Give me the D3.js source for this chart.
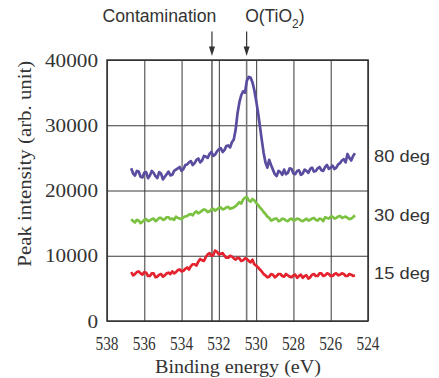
<!DOCTYPE html>
<html>
<head>
<meta charset="utf-8">
<script src="https://cdn.jsdelivr.net/npm/d3@7"></script>
<style>
  html, body { margin: 0; padding: 0; background: #fff; }
  svg { display: block; }
</style>
</head>
<body>
<svg id="chart" width="439" height="378"></svg>
<script>
// Binding energy (eV) of each sample point
const energies = [
  536.7, 536.6, 536.5, 536.4, 536.3, 536.2, 536.1, 536.0, 535.9, 535.8,
  535.7, 535.6, 535.5, 535.4, 535.3, 535.2, 535.1, 535.0, 534.9, 534.8,
  534.7, 534.6, 534.5, 534.4, 534.3, 534.2, 534.1, 534.0, 533.9, 533.8,
  533.7, 533.6, 533.5, 533.4, 533.3, 533.2, 533.1, 533.0, 532.9, 532.8,
  532.7, 532.6, 532.5, 532.4, 532.3, 532.2, 532.1, 532.0, 531.9, 531.8,
  531.7, 531.6, 531.5, 531.4, 531.3, 531.2, 531.1, 531.0, 530.9, 530.8,
  530.7, 530.6, 530.5, 530.4, 530.3, 530.2, 530.1, 530.0, 529.9, 529.8,
  529.7, 529.6, 529.5, 529.4, 529.3, 529.2, 529.1, 529.0, 528.9, 528.8,
  528.7, 528.6, 528.5, 528.4, 528.3, 528.2, 528.1, 528.0, 527.9, 527.8,
  527.7, 527.6, 527.5, 527.4, 527.3, 527.2, 527.1, 527.0, 526.9, 526.8,
  526.7, 526.6, 526.5, 526.4, 526.3, 526.2, 526.1, 526.0, 525.9, 525.8,
  525.7, 525.6, 525.5, 525.4, 525.3, 525.2, 525.1, 525.0, 524.9, 524.8,
  524.7
];

// Peak intensity
const deg80 = [
  23400, 22600, 22300, 23000, 22900, 22100, 22000, 22700, 22800, 21900,
  22300, 23000, 22700, 22200, 21900, 22800, 22600, 21700, 22100, 22500,
  22900, 22300, 22400, 23000, 23200, 23400, 23600, 23000, 23300, 23900,
  24000, 24300, 24500, 23900, 24200, 24700, 24900, 24300, 24600, 25300,
  25200, 25000, 25600, 25900, 25300, 25500, 26000, 26300, 26500, 25900,
  26200, 26800, 26900, 26600, 27400, 27800, 29300, 31800, 33500, 34600,
  35200, 35000, 36800, 37400, 37300, 36600, 35400, 33800, 32000, 29900,
  27800, 25800, 24300, 23500, 24700, 23900, 23200, 22500, 22200, 23000,
  22800, 22400, 23200, 22500, 22700, 23400, 23300, 22600, 22500, 23000,
  23100, 22400, 22600, 23200, 23000, 22700, 23300, 23500, 22900, 23000,
  23400, 23600, 23100, 23000, 23600, 23900, 23300, 23500, 23800, 23300,
  23500, 24000, 24200, 24600, 24800, 24300, 25600, 25000, 24600, 25300,
  25700
];
const deg30 = [
  15600, 15300, 15100, 15500, 15400, 15000, 15200, 15500, 15600, 15300,
  15400, 15600, 15700, 15300, 15500, 15800, 15800, 15500, 15600, 15900,
  15900, 15600, 15700, 15500, 16000, 15800, 15700, 15600, 15900, 16000,
  16100, 16300, 16400, 16200, 16600, 16800, 16500, 16700, 16900, 17100,
  17000, 16700, 16800, 17100, 17200, 16900, 17100, 17300, 17400, 17100,
  17200, 17400, 17500, 17200, 17300, 17400, 17600, 17900, 18200, 18000,
  18600, 18900, 19000, 18500, 18300, 18700, 18500, 18100, 17800, 17400,
  17100, 16700, 16400, 16000, 15800, 15400, 15500, 15700, 15700, 15300,
  15400, 15700, 15600, 15400, 15300, 15600, 15700, 15400, 15500, 15700,
  15600, 15400, 15300, 15500, 15700, 15400, 15500, 15700, 15800, 15500,
  15400, 15700, 15600, 15300, 15900, 15800, 15700, 16000, 16000, 15700,
  15800, 16000, 16100, 15800, 15900, 16000, 15800, 15600, 15700, 15900,
  16200
];
const deg15 = [
  7500, 7000, 7200, 7500, 7600, 7300, 7100, 7500, 7400, 6900,
  6900, 7300, 7300, 6700, 6800, 7100, 7200, 6800, 7000, 7300,
  7400, 7200, 7600, 7300, 7500, 7800, 7900, 7600, 7700, 8000,
  8200, 7900, 8400, 8700, 8700, 8500, 9100, 9500, 9300, 9200,
  9800, 10200, 10400, 10000, 10100, 10800, 10600, 10200, 10300, 10400,
  10000, 9700, 9700, 10000, 9900, 9600, 9400, 9700, 9600, 9200,
  9300, 9600, 9500, 9200, 9000, 9400, 8700, 8500, 8200, 7900,
  7600, 7200, 7000, 6700, 6800, 7200, 7100, 6700, 6900, 7200,
  7200, 6900, 6800, 7200, 7000, 6800, 6700, 7000, 7100, 6600,
  6900, 7100, 6600, 6900, 7000, 6500, 6700, 7100, 7200, 6900,
  6900, 7300, 7300, 6900, 7000, 7300, 7200, 6900, 6900, 7200,
  7300, 7000, 7100, 7300, 7200, 6900, 6900, 7200, 7100, 6900,
  7000
];

const seriesNames = ['80 deg', '30 deg', '15 deg'];
const seriesColors = ['#5a4c9f', '#7cc242', '#e4232f'];

const xTicks = [538, 536, 534, 532, 530, 528, 526, 524];
const yTicks = [0, 10000, 20000, 30000, 40000];

const markerLabels = ['Contamination', 'O(TiO2)'];
const markerEnergies = [532.37, 530.51];

// Layout
const PLOT = { left: 107, right: 368, top: 60, bottom: 321 };
const LABEL_Y = [162, 221, 279];

function draw() {
  const svg = d3.select('#chart');

  const x = d3.scaleLinear().domain([538, 524]).range([PLOT.left, PLOT.right]);
  const y = d3.scaleLinear().domain([0, 40000]).range([PLOT.bottom, PLOT.top]);

  const serif = '"Liberation Serif", "Times New Roman", serif';
  const sans = '"Liberation Sans", Arial, sans-serif';
  const ink = '#333';

  // vertical grid
  svg.append('g')
    .attr('transform', `translate(0,${PLOT.bottom})`)
    .call(d3.axisBottom(x).tickValues(xTicks).tickSize(-(PLOT.bottom - PLOT.top)).tickFormat(''))
    .call(g => g.select('.domain').remove())
    .selectAll('line').attr('stroke', '#4a4a4a').attr('stroke-width', 1.1);

  // horizontal grid
  svg.append('g')
    .attr('transform', `translate(${PLOT.left},0)`)
    .call(d3.axisLeft(y).tickValues(yTicks).tickSize(-(PLOT.right - PLOT.left)).tickFormat(''))
    .call(g => g.select('.domain').remove())
    .selectAll('line').attr('stroke', '#3a3a3a').attr('stroke-width', 1.1);

  // marker lines through the plot
  markerEnergies.forEach((e, i) => {
    svg.append('line')
      .attr('x1', x(e)).attr('x2', x(e))
      .attr('y1', PLOT.top).attr('y2', PLOT.bottom)
      .attr('stroke', i === 0 ? '#333' : '#777')
      .attr('stroke-width', i === 0 ? 1.2 : 1.6);
  });

  // frame
  svg.append('rect')
    .attr('x', PLOT.left).attr('y', PLOT.top)
    .attr('width', PLOT.right - PLOT.left).attr('height', PLOT.bottom - PLOT.top)
    .attr('fill', 'none').attr('stroke', ink).attr('stroke-width', 1.5);

  // tick labels
  svg.append('g').selectAll('text')
    .data(xTicks).join('text')
    .attr('x', d => x(d)).attr('y', 349.5)
    .attr('text-anchor', 'middle')
    .attr('font-family', serif).attr('font-size', 18.5).attr('fill', ink)
    .attr('textLength', 23).attr('lengthAdjust', 'spacingAndGlyphs')
    .text(d => d);

  svg.append('g').selectAll('text')
    .data(yTicks).join('text')
    .attr('x', 98).attr('y', d => y(d) + 6.5)
    .attr('text-anchor', 'end')
    .attr('font-family', serif).attr('font-size', 18).attr('fill', ink)
    .attr('textLength', d => String(d).length * 10.6).attr('lengthAdjust', 'spacingAndGlyphs')
    .text(d => d);

  // axis titles
  svg.append('text')
    .attr('x', (PLOT.left + PLOT.right) / 2 + 0.5).attr('y', 372.5)
    .attr('text-anchor', 'middle')
    .attr('font-family', serif).attr('font-size', 19).attr('fill', ink)
    .attr('textLength', 166).attr('lengthAdjust', 'spacingAndGlyphs')
    .text('Binding energy (eV)');

  svg.append('text')
    .attr('transform', 'translate(30.5,163.7) rotate(-90)')
    .attr('text-anchor', 'middle')
    .attr('font-family', serif).attr('font-size', 19).attr('fill', ink)
    .attr('textLength', 206).attr('lengthAdjust', 'spacingAndGlyphs')
    .text('Peak intensity (arb. unit)');

  // spectra
  const line = d3.line()
    .x((d, i) => x(energies[i]))
    .y(d => y(d));

  [deg80, deg30, deg15].forEach((vals, i) => {
    svg.append('path')
      .datum(vals)
      .attr('d', line)
      .attr('fill', 'none')
      .attr('stroke', seriesColors[i])
      .attr('stroke-width', 2.7)
      .attr('stroke-linejoin', 'round');

    svg.append('text')
      .attr('x', 374).attr('y', LABEL_Y[i])
      .attr('font-family', sans).attr('font-size', 17).attr('fill', ink)
      .attr('textLength', 56).attr('lengthAdjust', 'spacingAndGlyphs')
      .text(seriesNames[i]);
  });

  // marker arrows and labels
  markerEnergies.forEach(e => {
    const mx = x(e);
    svg.append('line')
      .attr('x1', mx).attr('x2', mx).attr('y1', 31.5).attr('y2', 48)
      .attr('stroke', ink).attr('stroke-width', 1.2);
    svg.append('path')
      .attr('d', `M${mx - 3},46.5 L${mx + 3},46.5 L${mx},56 Z`)
      .attr('fill', ink);
  });

  svg.append('text')
    .attr('x', x(markerEnergies[0]) + 4.5).attr('y', 22.3)
    .attr('text-anchor', 'end')
    .attr('font-family', sans).attr('font-size', 17.5).attr('fill', ink)
    .attr('textLength', 114).attr('lengthAdjust', 'spacingAndGlyphs')
    .text(markerLabels[0]);

  const o = svg.append('text')
    .attr('x', x(markerEnergies[1]) - 1.5).attr('y', 22.3)
    .attr('font-family', sans).attr('font-size', 17.5).attr('fill', ink);
  o.append('tspan').text(markerLabels[1].slice(0, 5));
  o.append('tspan').attr('dy', 6).attr('font-size', 12).text(markerLabels[1].slice(5, 6));
  o.append('tspan').attr('dy', -6).text(markerLabels[1].slice(6));
}

draw();
</script>
</body>
</html>
